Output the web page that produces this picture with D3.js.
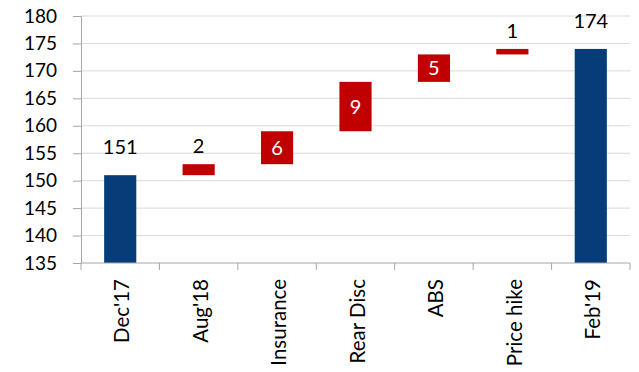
<!DOCTYPE html>
<html>
<head>
<meta charset="utf-8">
<script src="https://cdn.jsdelivr.net/npm/d3@7"></script>
<style>
  body { margin: 0; background: #fff; }
  text { font-family: Lato, "Open Sans", sans-serif; }
</style>
</head>
<body>
<div id="chart"></div>
<script>
// data
const categories = ["Dec'17", "Aug'18", "Insurance", "Rear Disc", "ABS", "Price hike", "Feb'19"];
const values = [151, 2, 6, 9, 5, 1, 174];
const kinds = ["total", "delta", "delta", "delta", "delta", "delta", "total"];
const yTicks = [135, 140, 145, 150, 155, 160, 165, 170, 175, 180];

const W = 639, H = 372;
const margin = { top: 16, right: 9, bottom: 109, left: 81 };
const width = W - margin.left - margin.right;
const height = H - margin.top - margin.bottom;

// build waterfall segments
let running = 0;
const rows = categories.map((c, i) => {
    let lo, hi;
    if (kinds[i] === "total") { lo = 135; hi = values[i]; running = values[i]; }
    else { lo = running; hi = running + values[i]; running = hi; }
    return { cat: c, value: values[i], kind: kinds[i], lo, hi };
});

const svg = d3.select("#chart").append("svg")
    .attr("width", W).attr("height", H);

const g = svg.append("g")
    .attr("transform", `translate(${margin.left},${margin.top})`);

const x = d3.scaleBand().domain(categories).range([0, width]).paddingInner(0.59).paddingOuter(0.295);
const xb = d3.scaleBand().domain(categories).range([0, width]); // for tick positions
const y = d3.scaleLinear().domain([135, 180]).range([height, 0]);

// gridlines
g.append("g").selectAll("line")
    .data(yTicks.slice(1))
    .enter().append("line")
    .attr("x1", 0).attr("x2", width)
    .attr("y1", d => y(d)).attr("y2", d => y(d))
    .attr("stroke", "#d9d9d9").attr("stroke-width", 1);

// bars
g.selectAll(".bar")
    .data(rows)
    .enter().append("rect")
    .attr("class", "bar")
    .attr("x", d => x(d.cat))
    .attr("width", x.bandwidth())
    .attr("y", d => y(d.hi))
    .attr("height", d => y(d.lo) - y(d.hi))
    .attr("fill", d => d.kind === "total" ? "#063d79" : "#c00000");

// y axis
const yAxis = g.append("g")
    .call(d3.axisLeft(y).tickValues(yTicks).tickSize(8).tickPadding(16));
yAxis.select(".domain").attr("stroke", "#a6a6a6");
yAxis.selectAll(".tick line").attr("stroke", "#a6a6a6");
yAxis.selectAll("text").style("font-size", "19px").attr("fill", "#000")
    .style("font-family", "Lato, sans-serif");

// x axis: ticks at band boundaries
const xAxis = g.append("g").attr("transform", `translate(0,${height})`);
xAxis.append("line").attr("x1", 0).attr("x2", width).attr("stroke", "#a6a6a6");
const bounds = categories.map(c => xb(c)).concat([width]);
xAxis.selectAll(".tk").data(bounds).enter().append("line")
    .attr("x1", d => d).attr("x2", d => d)
    .attr("y1", 0).attr("y2", 7)
    .attr("stroke", "#a6a6a6");
xAxis.selectAll(".lbl").data(categories).enter().append("text")
    .attr("transform", d => `translate(${xb(d) + xb.bandwidth() / 2},16) rotate(-90)`)
    .attr("dy", "0.45em")
    .attr("text-anchor", "end")
    .style("font-size", "20.5px")
    .text(d => d);

// value labels
g.selectAll(".val")
    .data(rows)
    .enter().append("text")
    .attr("x", d => x(d.cat) + x.bandwidth() / 2)
    .attr("y", d => {
        if (d.kind === "total") return y(d.hi) - 21;
        if (d.value >= 3) return (y(d.lo) + y(d.hi)) / 2;
        return y(d.hi) - 11;
    })
    .attr("dy", d => (d.kind === "delta" && d.value >= 3) ? "0.36em" : 0)
    .attr("text-anchor", "middle")
    .attr("fill", d => (d.kind === "delta" && d.value >= 3) ? "#fff" : "#000")
    .style("font-size", "20px")
    .text(d => d.value);
</script>
</body>
</html>
